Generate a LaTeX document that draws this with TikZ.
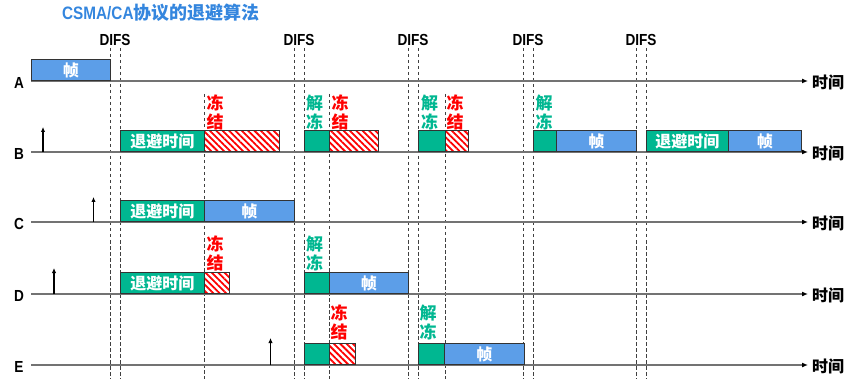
\documentclass[tikz,border=0pt]{standalone}
\usepackage{fontspec}
\setmainfont{Liberation Sans}
\newfontfamily\narrowfont{Liberation Sans}[FakeStretch=0.85]
\newfontfamily\cjk{Noto Sans CJK SC}
\usetikzlibrary{arrows.meta,patterns.meta}
\definecolor{bkgreen}{RGB}{0,183,145}
\definecolor{frameblue}{RGB}{92,158,232}
\definecolor{titleblue}{RGB}{52,134,222}
\definecolor{freezered}{RGB}{255,0,0}

\begin{document}
\begin{tikzpicture}[x=1pt,y=-1pt,
	slot/.style={draw=black!80,line width=0.9pt,minimum height=21pt,inner sep=0pt,anchor=south west,
		text=white,font=\cjk\bfseries\fontsize{16}{16}\selectfont},
	backoff/.style={slot,fill=bkgreen},
	resume/.style={slot,fill=bkgreen},
	framebox/.style={slot,fill=frameblue},
	frozen/.style={slot,fill=white,pattern={Lines[angle=-45,distance=4.5pt,line width=1.8pt]},pattern color=freezered},
	tline/.style={black!55,line width=1.3pt,-{Latex[color=black,length=6pt,width=5pt]}},
	difs/.style={black!75,line width=0.8pt,dash pattern=on 3.5pt off 2.5pt},
	sta/.style={font=\narrowfont\bfseries\fontsize{16}{16}\selectfont,inner sep=0pt},
	tlabel/.style={font=\cjk\bfseries\fontsize{16}{16}\selectfont,inner xsep=4pt,inner ysep=0pt,anchor=west},
	vtext/.style={font=\cjk\bfseries\fontsize{17}{19}\selectfont,align=center,inner sep=0pt},
	sendup/.style={black,line width=1.3pt,-{Latex[length=5pt,width=4.5pt]}}]
	\useasboundingbox (0,0) rectangle (861,379);

	% title
	\node[anchor=west,inner sep=0pt,text=titleblue,font=\bfseries\fontsize{18}{18}\selectfont] (title) at (62,13)
		{{\narrowfont CSMA/CA}{\cjk 协议的退避算法}};

	% DIFS marks
	\foreach \x/\y in {110/120,294/304,408/418,523/533,636/646} {
		\node[font=\narrowfont\bfseries\fontsize{16}{16}\selectfont,inner sep=0pt] at ({(\x+\y)/2},40) {DIFS};
		\draw[difs] (\x,48) -- (\x,379);
		\draw[difs] (\y,48) -- (\y,379);
	}
	\foreach \x in {204,329,445}
		\draw[difs] (\x,94) -- (\x,379);

	% stations and time axes
	\foreach \s/\y in {A/81,B/152,C/222,D/294,E/365} {
		\node[sta] (st\s) at (19,\y+2) {\s};
		\coordinate (o\s) at (31,\y);
		\node[tlabel] (t\s) at (808,\y+1) {时间};
		\draw[tline] (o\s) -- (t\s.west |- o\s);
	}

	% A
	\node[framebox,minimum width=79pt] (a1) at (31,81) {帧};

	% B
	\draw[sendup] (43,152) -- (43,127);
	\node[backoff,minimum width=84pt] (b1) at (120,152) {退避时间};
	\node[frozen,minimum width=75pt] (b2) at (204,152) {};
	\node[resume,minimum width=25pt] (b3) at (304,152) {};
	\node[frozen,minimum width=49pt] (b4) at (329,152) {};
	\node[resume,minimum width=27pt] (b5) at (418,152) {};
	\node[frozen,minimum width=23pt] (b6) at (445,152) {};
	\node[resume,minimum width=23pt] (b7) at (533,152) {};
	\node[framebox,minimum width=80pt] (b8) at (556,152) {帧};
	\node[backoff,minimum width=82pt] (b9) at (646,152) {退避时间};
	\node[framebox,minimum width=73pt] (b10) at (728,152) {帧};
	\node[vtext,text=freezered] at (215,112) {冻\\结};
	\node[vtext,text=bkgreen] at (314.5,112) {解\\冻};
	\node[vtext,text=freezered] at (340,112) {冻\\结};
	\node[vtext,text=bkgreen] at (429.5,112) {解\\冻};
	\node[vtext,text=freezered] at (455,112) {冻\\结};
	\node[vtext,text=bkgreen] at (544,112) {解\\冻};

	% C
	\draw[sendup] (93.5,222) -- (93.5,197);
	\node[backoff,minimum width=84pt] (c1) at (120,222) {退避时间};
	\node[framebox,minimum width=90pt] (c2) at (204,222) {帧};

	% D
	\draw[sendup] (54,294) -- (54,268);
	\node[backoff,minimum width=84pt] (d1) at (120,294) {退避时间};
	\node[frozen,minimum width=25pt] (d2) at (204,294) {};
	\node[resume,minimum width=25pt] (d3) at (304,294) {};
	\node[framebox,minimum width=79pt] (d4) at (329,294) {帧};
	\node[vtext,text=freezered] at (215,253) {冻\\结};
	\node[vtext,text=bkgreen] at (314.5,253) {解\\冻};

	% E
	\draw[sendup] (270.5,365) -- (270.5,338);
	\node[resume,minimum width=25pt] (e1) at (304,365) {};
	\node[frozen,minimum width=26pt] (e2) at (329,365) {};
	\node[resume,minimum width=26pt] (e3) at (418,365) {};
	\node[framebox,minimum width=80pt] (e4) at (444,365) {帧};
	\node[vtext,text=freezered] at (339,322) {冻\\结};
	\node[vtext,text=bkgreen] at (428,322) {解\\冻};
\end{tikzpicture}
\end{document}
